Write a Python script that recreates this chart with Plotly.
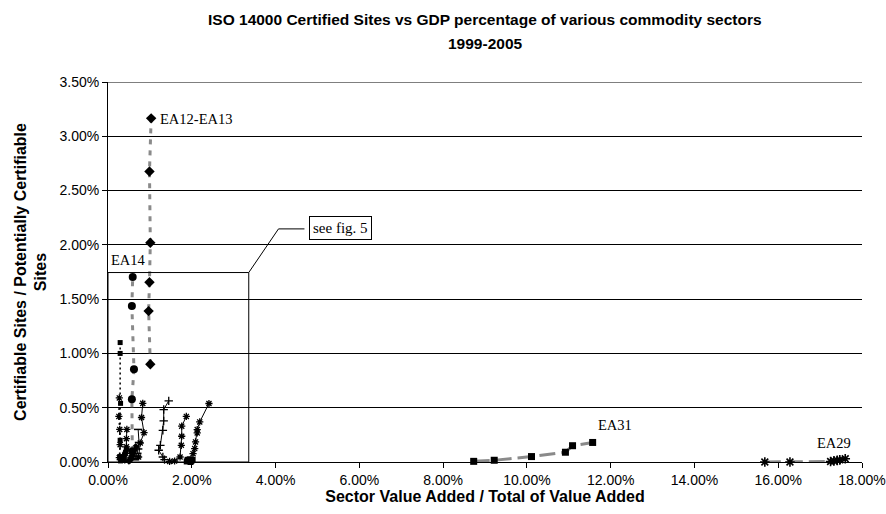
import plotly.graph_objects as go

# ---- data (x: sector value added share, %, y: certified / certifiable sites, %) ----
ea12_x = [1.01, 0.97, 0.99, 1.01, 0.99, 1.03]
ea12_y = [0.90, 1.39, 1.655, 2.02, 2.675, 3.165]

ea14_x = [0.58, 0.57, 0.62, 0.57, 0.59]
ea14_y = [0.10, 0.578, 0.855, 1.436, 1.704]

ea31_x = [8.73, 9.22, 10.11, 10.92, 11.09, 11.57]
ea31_y = [0.006, 0.016, 0.05, 0.09, 0.15, 0.18]

ea29_x = [15.68, 16.28, 17.25, 17.33, 17.41, 17.47, 17.60]
ea29_y = [0.0, 0.0, 0.005, 0.01, 0.015, 0.02, 0.03]

# smaller sectors clustered near the origin
dot_a_x = [0.29, 0.29, 0.30, 0.29, 0.28]
dot_a_y = [1.10, 1.00, 0.54, 0.20, 0.05]
dot_b_x = [0.27, 0.26, 0.28, 0.29, 0.27]
dot_b_y = [0.59, 0.42, 0.30, 0.16, 0.04]

s1_x = [0.73, 0.77, 0.86, 0.80, 0.83]
s1_y = [0.046, 0.175, 0.27, 0.41, 0.54]

s2_x = [1.35, 1.31, 1.21, 1.25, 1.31, 1.33, 1.33, 1.45]
s2_y = [0.022, 0.046, 0.108, 0.154, 0.292, 0.378, 0.483, 0.563]

s3_x = [1.47, 1.59, 1.72, 1.75, 1.76, 1.76, 1.87]
s3_y = [0.005, 0.009, 0.046, 0.154, 0.237, 0.33, 0.42]

s4_x = [2.03, 2.07, 2.09, 2.13, 2.13, 2.19, 2.41]
s4_y = [0.077, 0.124, 0.185, 0.268, 0.299, 0.369, 0.539]

sq_x = [1.88, 1.92, 1.95, 1.99, 2.02, 1.97, 1.90]
sq_y = [0.005, 0.015, 0.025, 0.01, 0.02, 0.0, 0.02]

c1_x = [0.30, 0.33, 0.35, 0.38, 0.40, 0.42, 0.44]
c1_y = [0.01, 0.02, 0.03, 0.05, 0.07, 0.09, 0.12]
c2_x = [0.50, 0.53, 0.55, 0.58, 0.60, 0.63, 0.66]
c2_y = [0.01, 0.02, 0.04, 0.06, 0.08, 0.11, 0.14]
c3_x = [0.62, 0.65, 0.68, 0.70, 0.72, 0.74, 0.72]
c3_y = [0.02, 0.03, 0.05, 0.08, 0.12, 0.18, 0.30]
c4_x = [0.40, 0.42, 0.44, 0.44, 0.45]
c4_y = [0.02, 0.08, 0.14, 0.215, 0.30]

y_ticks = [0.0, 0.5, 1.0, 1.5, 2.0, 2.5, 3.0, 3.5]
x_ticks = [0, 2, 4, 6, 8, 10, 12, 14, 16, 18]

GRAY = "#8a8a8a"
BLACK = "#000000"
SANS = "Liberation Sans, Arial, sans-serif"
SERIF = "Liberation Serif, Times New Roman, serif"

fig = go.Figure()


def add(x, y, line, marker):
    fig.add_trace(go.Scatter(x=x, y=y, mode="lines+markers", line=line,
                             marker=marker, showlegend=False, hoverinfo="skip",
                             cliponaxis=False))


star = dict(symbol="asterisk-open", size=8, color=BLACK, line=dict(width=1.6, color=BLACK))
small_star = dict(symbol="asterisk-open", size=6, color=BLACK, line=dict(width=1.3, color=BLACK))

# small sectors
add(dot_a_x, dot_a_y, dict(color=BLACK, width=1.5, dash="2px,3px"),
    dict(symbol="square", size=5, color=BLACK))
add(dot_b_x, dot_b_y, dict(color=BLACK, width=1.5, dash="2px,3px"), small_star)
add(c1_x, c1_y, dict(color=BLACK, width=1), dict(symbol="square", size=5, color=BLACK))
add(c2_x, c2_y, dict(color=BLACK, width=1), dict(symbol="diamond", size=6, color=BLACK))
add(c3_x, c3_y, dict(color=BLACK, width=1), dict(symbol="line-ew-open", size=6,
                                                   line=dict(width=1.5, color=BLACK)))
add(c4_x, c4_y, dict(color=BLACK, width=1), small_star)
add(s1_x, s1_y, dict(color=BLACK, width=1), small_star)
add(s2_x, s2_y, dict(color=BLACK, width=1), dict(symbol="cross-thin-open", size=6,
                                                   line=dict(width=1.3, color=BLACK)))
add(s3_x, s3_y, dict(color=BLACK, width=1), small_star)
add(s4_x, s4_y, dict(color=BLACK, width=1), small_star)
add(sq_x, sq_y, dict(color=BLACK, width=1), dict(symbol="square", size=6, color=BLACK))

# labelled sectors
add(ea14_x, ea14_y, dict(color=GRAY, width=3, dash="5px,6px"),
    dict(symbol="circle", size=8, color=BLACK))
add(ea12_x, ea12_y, dict(color=GRAY, width=3, dash="5px,6px"),
    dict(symbol="diamond", size=8, color=BLACK))
add(ea31_x, ea31_y, dict(color=GRAY, width=3, dash="16px,6px"),
    dict(symbol="square", size=7, color=BLACK))
add(ea29_x, ea29_y, dict(color=GRAY, width=3, dash="16px,6px"), star)

serif = dict(family=SERIF, size=14.5, color=BLACK)

annotations = [
    dict(x=2.12, y=3.16, text="EA12-EA13", showarrow=False, font=serif),
    dict(x=0.48, y=1.865, text="EA14", showarrow=False, font=serif),
    dict(x=12.1, y=0.34, text="EA31", showarrow=False, font=serif),
    dict(x=17.32, y=0.175, text="EA29", showarrow=False, font=serif),
    dict(x=5.55, y=2.155, text="see fig. 5", showarrow=False,
         font=dict(family=SERIF, size=15, color=BLACK),
         bordercolor=BLACK, borderwidth=1, borderpad=3, bgcolor="white"),
    # two-line chart heading
    dict(x=0.5, xref="paper", y=1, yref="paper", yshift=82 - 19, yanchor="middle",
         text="<b>ISO 14000 Certified Sites vs GDP percentage of various commodity sectors</b>",
         showarrow=False, font=dict(family=SANS, size=15.5, color=BLACK)),
    dict(x=0.5, xref="paper", y=1, yref="paper", yshift=82 - 43, yanchor="middle",
         text="<b>1999-2005</b>", showarrow=False,
         font=dict(family=SANS, size=15.5, color=BLACK)),
]

shapes = [
    # zoomed region outline with its callout leader
    dict(type="rect", x0=0, y0=0, x1=3.36, y1=1.745, line=dict(color=BLACK, width=1)),
    dict(type="line", x0=3.36, y0=1.745, x1=4.07, y1=2.147, line=dict(color=BLACK, width=1)),
    dict(type="line", x0=4.07, y0=2.147, x1=4.69, y1=2.147, line=dict(color=BLACK, width=1)),
    # top gridline
    dict(type="line", x0=0, x1=18, y0=3.5, y1=3.5, line=dict(color=BLACK, width=1)),
]

fig.update_layout(
    width=886, height=514,
    margin=dict(l=108, r=24, t=82, b=52, autoexpand=False),
    paper_bgcolor="white", plot_bgcolor="white",
    annotations=annotations,
    shapes=shapes,
    xaxis=dict(range=[0, 18], tickvals=x_ticks, ticktext=[f"{v:.2f}%" for v in x_ticks],
               automargin=False,
               showgrid=False, zeroline=False, showline=True, linecolor=BLACK, linewidth=1,
               ticks="outside", ticklen=5, tickcolor=BLACK,
               tickfont=dict(family=SANS, size=14, color=BLACK),
               title=dict(text="<b>Sector Value Added / Total of Value Added</b>",
                          font=dict(family=SANS, size=16, color=BLACK), standoff=4)),
    yaxis=dict(range=[0, 3.5], tickvals=y_ticks, ticktext=[f"{v:.2f}%" for v in y_ticks],
               automargin=False,
               showgrid=True, gridcolor=BLACK, gridwidth=1, zeroline=False,
               showline=True, linecolor=BLACK, linewidth=1,
               ticks="outside", ticklen=5, tickcolor=BLACK,
               tickfont=dict(family=SANS, size=14, color=BLACK),
               title=dict(text="<b>Certifiable Sites / Potentially Certifiable<br>Sites</b>",
                          font=dict(family=SANS, size=16, color=BLACK), standoff=8)),
)

fig.write_html("out.html")
